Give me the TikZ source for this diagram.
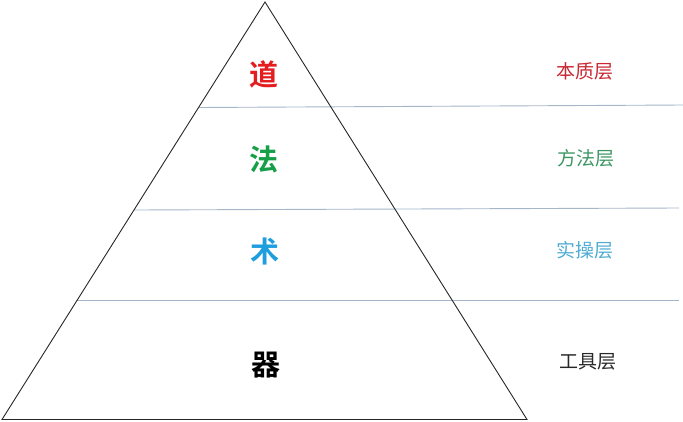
\documentclass[tikz,border=0pt]{standalone}
\usepackage{fontspec}
\newfontfamily\cjk{Noto Sans CJK SC}
\newfontfamily\cjkb{Noto Sans CJK SC Bold}
\definecolor{dao}{RGB}{228,30,32}
\definecolor{fa}{RGB}{22,158,72}
\definecolor{shu}{RGB}{30,158,222}
\definecolor{lbenzhi}{RGB}{200,40,50}
\definecolor{lfangfa}{RGB}{60,150,100}
\definecolor{lshicao}{RGB}{80,172,210}
\definecolor{lgongju}{RGB}{40,40,40}
\definecolor{sep}{RGB}{165,182,200}
\begin{document}
\begin{tikzpicture}[x=1pt,y=-1pt,
  big/.style={font=\cjkb\fontsize{29}{29}\selectfont, inner sep=0pt},
  lbl/.style={font=\cjk\fontsize{19}{19}\selectfont, inner sep=0pt},
  sepline/.style={draw=sep, line width=0.9pt},
  tri/.style={draw=black!85, line width=0.9pt}]
\useasboundingbox (0,0) rectangle (683,421);
\coordinate (apex) at (265,2);
\coordinate (bl) at (2,419.5);
\coordinate (br) at (527,419.5);
\coordinate (s1a) at (198,107.5);
\coordinate (s1b) at (683,105);
\coordinate (s2a) at (134,210);
\coordinate (s2b) at (679,208);
\coordinate (s3a) at (76,300.5);
\coordinate (s3b) at (679,300.5);
\draw[sepline] (s1a) -- (s1b);
\draw[sepline] (s2a) -- (s2b);
\draw[sepline] (s3a) -- (s3b);
\draw[tri] (apex) -- (bl) -- (br) -- cycle;
\node[big, text=dao] (dao) at (264,74) {道};
\node[big, text=fa] (fa) at (264,159) {法};
\node[big, text=shu] (shu) at (265,252) {术};
\node[big, text=black] (qi) at (266,365) {器};
\node[lbl, text=lbenzhi] (l1) at (585,71) {本质层};
\node[lbl, text=lfangfa] (l2) at (586,158) {方法层};
\node[lbl, text=lshicao] (l3) at (585,250) {实操层};
\node[lbl, text=lgongju] (l4) at (588,362) {工具层};
\end{tikzpicture}
\end{document}
